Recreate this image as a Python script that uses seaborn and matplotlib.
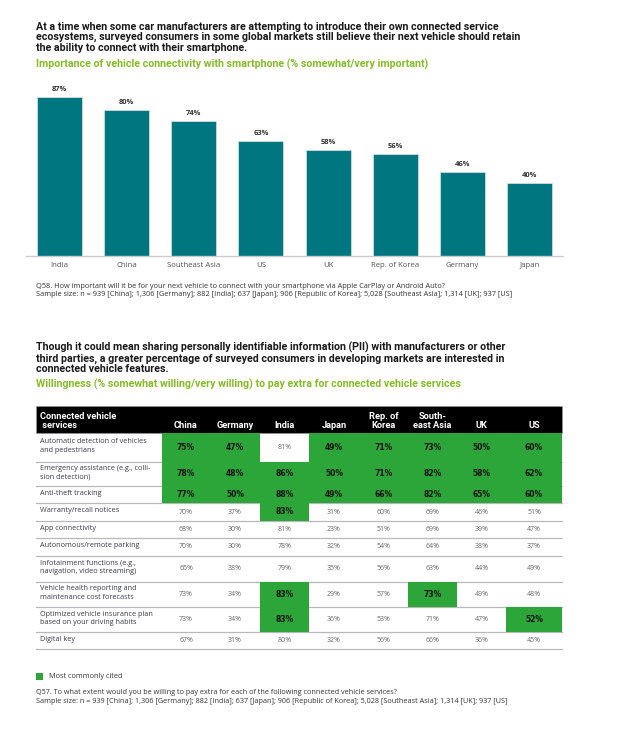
import numpy as np
import matplotlib
matplotlib.use('Agg')
import matplotlib.pyplot as plt
from matplotlib.colors import ListedColormap
from matplotlib.patches import Rectangle
import seaborn as sns

# --- data -------------------------------------------------------------
countries = ['India', 'China', 'Southeast Asia', 'US', 'UK', 'Rep. of Korea', 'Germany', 'Japan']
importance = [87, 80, 74, 63, 58, 56, 46, 40]

markets = ['China', 'Germany', 'India', 'Japan', 'Rep. of\nKorea', 'South-\neast Asia', 'UK', 'US']
services = [
    'Automatic detection of vehicles\nand pedestrians',
    'Emergency assistance (e.g., colli-\nsion detection)',
    'Anti-theft tracking',
    'Warranty/recall notices',
    'App connectivity',
    'Autonomous/remote parking',
    'Infotainment functions (e.g.,\nnavigation, video streaming)',
    'Vehicle health reporting and\nmaintenance cost forecasts',
    'Optimized vehicle insurance plan\nbased on your driving habits',
    'Digital key',
]
willingness = [
    [75, 47, 81, 49, 71, 73, 50, 60],
    [78, 48, 86, 50, 71, 82, 58, 62],
    [77, 50, 88, 49, 66, 82, 65, 60],
    [70, 37, 83, 31, 60, 69, 46, 51],
    [68, 30, 81, 23, 51, 69, 39, 47],
    [70, 30, 78, 32, 54, 64, 38, 37],
    [65, 38, 79, 35, 56, 63, 44, 49],
    [73, 34, 83, 29, 57, 73, 49, 48],
    [73, 34, 83, 36, 53, 71, 47, 52],
    [67, 31, 80, 32, 56, 66, 36, 45],
]
most_cited = [
    [1, 1, 0, 1, 1, 1, 1, 1],
    [1, 1, 1, 1, 1, 1, 1, 1],
    [1, 1, 1, 1, 1, 1, 1, 1],
    [0, 0, 1, 0, 0, 0, 0, 0],
    [0, 0, 0, 0, 0, 0, 0, 0],
    [0, 0, 0, 0, 0, 0, 0, 0],
    [0, 0, 0, 0, 0, 0, 0, 0],
    [0, 0, 1, 0, 0, 1, 0, 0],
    [0, 0, 1, 0, 0, 0, 0, 1],
    [0, 0, 0, 0, 0, 0, 0, 0],
]

title1 = ('At a time when some car manufacturers are attempting to introduce their own connected service\n'
          'ecosystems, surveyed consumers in some global markets still believe their next vehicle should retain\n'
          'the ability to connect with their smartphone.')
sub1 = 'Importance of vehicle connectivity with smartphone (% somewhat/very important)'
note1 = ('Q58. How important will it be for your next vehicle to connect with your smartphone via Apple CarPlay or Android Auto?\n'
         'Sample size: n = 939 [China]; 1,306 [Germany]; 882 [India]; 637 [Japan]; 906 [Republic of Korea]; '
         '5,028 [Southeast Asia]; 1,314 [UK]; 937 [US]')
title2 = ('Though it could mean sharing personally identifiable information (PII) with manufacturers or other\n'
          'third parties, a greater percentage of surveyed consumers in developing markets are interested in\n'
          'connected vehicle features.')
sub2 = 'Willingness (% somewhat willing/very willing) to pay extra for connected vehicle services'
note2 = ('Q57. To what extent would you be willing to pay extra for each of the following connected vehicle services?\n'
         'Sample size: n = 939 [China]; 1,306 [Germany]; 882 [India]; 637 [Japan]; 906 [Republic of Korea]; '
         '5,028 [Southeast Asia]; 1,314 [UK]; 937 [US]')

# --- style ------------------------------------------------------------
TEAL = '#007680'
GREEN_TXT = '#86BC25'
GREEN_CELL = '#2DA639'
HEAD_FONT = ['Roboto', 'DejaVu Sans']
BODY_FONT = ['Open Sans', 'DejaVu Sans']
TITLE_SIZE = 7.65

sns.set_style('white')
plt.rcParams['font.family'] = BODY_FONT

W, H = 635, 731
fig = plt.figure(figsize=(W / 100, H / 100), dpi=100)

# overlay in pixel coords for all texts and the table
ov = fig.add_axes([0, 0, 1, 1])
ov.set_xlim(0, W)
ov.set_ylim(H, 0)
ov.axis('off')

# --- section 1 --------------------------------------------------------
ov.text(36, 21.5, title1, family=HEAD_FONT, fontweight='bold', fontsize=TITLE_SIZE, color='#1a1a1a',
        va='top', ha='left', linespacing=1.06)
ov.text(36, 64, sub1, family=HEAD_FONT, fontweight='bold', fontsize=TITLE_SIZE, color=GREEN_TXT, va='center')

ax = fig.add_axes([26 / W, (H - 256) / H, 537 / W, 183 / H])
sns.barplot(x=countries, y=importance, color=TEAL, saturation=1, width=0.67,
            edgecolor='#cfdede', linewidth=0.6, ax=ax)
ax.set_xlim(-0.5, 7.5)
ax.set_ylim(0, 100)
ax.set_yticks([])
ax.set_xlabel('')
ax.set_ylabel('')
for s in ['top', 'left', 'right']:
    ax.spines[s].set_visible(False)
ax.spines['bottom'].set_color('#cccccc')
ax.spines['bottom'].set_linewidth(1)
ax.tick_params(axis='x', length=0, pad=4.5, labelsize=5.6, labelcolor='#555555')
ax.bar_label(ax.containers[0], labels=[f'{v}%' for v in importance], padding=2.5,
             fontsize=5.4, fontweight='bold', color='#333333')
ax.patch.set_alpha(0)

ov.text(36, 283, note1, fontsize=5.3, color='#333333', va='top', linespacing=1.25)

# --- section 2 --------------------------------------------------------
ov.text(36, 341.5, title2, family=HEAD_FONT, fontweight='bold', fontsize=TITLE_SIZE, color='#1a1a1a',
        va='top', linespacing=1.06)
ov.text(36, 384, sub2, family=HEAD_FONT, fontweight='bold', fontsize=TITLE_SIZE, color=GREEN_TXT, va='center')

col_edges = [36, 162, 210, 260, 309, 359, 408, 457, 506, 562]
row_edges = [433, 461.7, 486, 503, 521, 538, 555.7, 581.7, 606.7, 632.3, 649.3]
col_mid = [(a + b) / 2 for a, b in zip(col_edges[1:-1], col_edges[2:])]
row_mid = [(a + b) / 2 for a, b in zip(row_edges[:-1], row_edges[1:])]

# header band
ov.add_patch(Rectangle((col_edges[0], 406), col_edges[-1] - col_edges[0], 433 - 406,
                       facecolor='black', edgecolor='#999999', linewidth=0.4, zorder=2))
ov.text(40, 421, 'Connected vehicle\n services', family=HEAD_FONT, fontweight='bold',
        fontsize=6.7, color='white', va='center', ha='left', linespacing=1.0, zorder=3)
for x, m in zip(col_mid, markets):
    n = m.count('\n')
    ov.text(x, 426 - 5 * n, m, family=HEAD_FONT, fontweight='bold', fontsize=6.7, color='white',
            va='center', ha='center', linespacing=1.0, zorder=3)

# row rules
for y in row_edges[1:]:
    ov.plot([col_edges[0], col_edges[-1]], [y, y], color='#b8b8b8', lw=0.9, zorder=1)

# highlighted cells
cell_cmap = ListedColormap([GREEN_CELL])
cell_cmap.set_bad((1, 1, 1, 0))
mask = np.ma.masked_equal(np.array(most_cited, dtype=float), 0)
ov.pcolormesh(col_edges[1:], row_edges, mask, cmap=cell_cmap,
              linewidth=0, antialiased=False, zorder=2)

for i, (svc, row) in enumerate(zip(services, willingness)):
    ov.text(40, row_mid[i] - 1.3, svc, fontsize=5.2, color='#3a3a4a', va='center', ha='left',
            linespacing=1.25, zorder=3)
    for j, v in enumerate(row):
        if most_cited[i][j]:
            ov.text(col_mid[j], row_mid[i], f'{v}%', family=['DejaVu Sans'], fontweight='bold',
                    fontsize=5.5, color='#111111', va='center', ha='center', zorder=3)
        else:
            ov.text(col_mid[j], row_mid[i], f'{v}%', fontsize=5.0, color='#666666',
                    va='center', ha='center', zorder=3)

# legend + footnote
ov.add_patch(Rectangle((36, 673), 7, 7, facecolor=GREEN_CELL, edgecolor='none'))
ov.text(49, 676.7, 'Most commonly cited', fontsize=5.2, color='#333333', va='center')
ov.text(36, 689.5, note2, fontsize=5.2, color='#333333', va='top', linespacing=1.25)

fig.savefig('out.png', dpi=100)
